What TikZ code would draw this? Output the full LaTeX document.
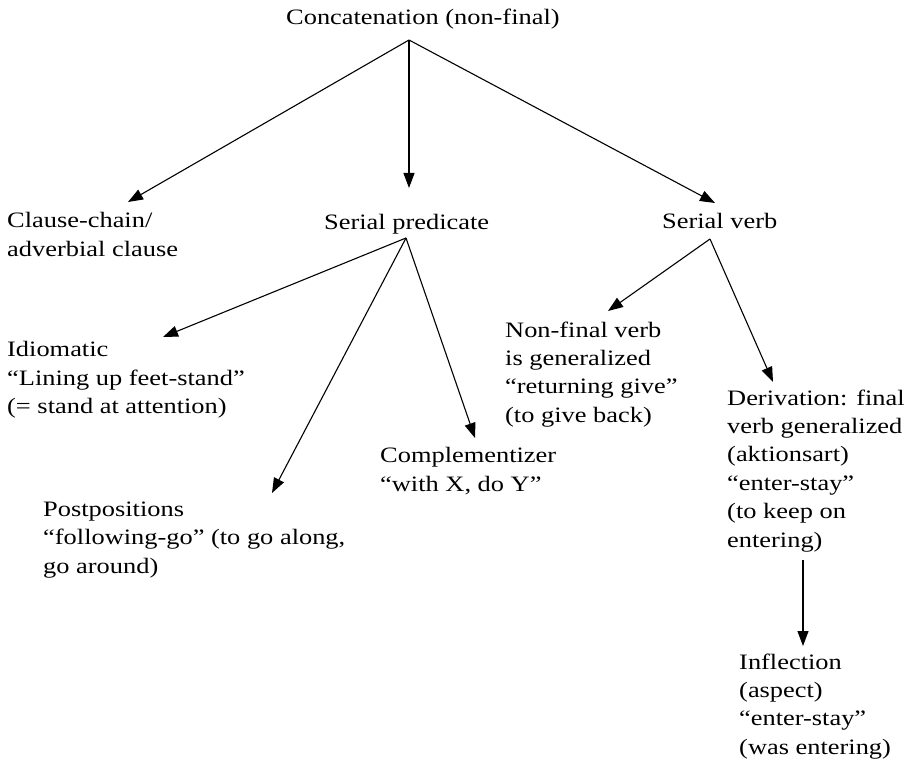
\documentclass[tikz,border=0pt]{standalone}
\usepackage{fontspec}
\setmainfont{Liberation Serif}[FakeStretch=1.2]
\usetikzlibrary{arrows.meta}

\begin{document}
\begin{tikzpicture}[x=1pt,y=-1pt,
  label/.style={anchor=north west, inner sep=0pt, align=left,
    font=\fontsize{22pt}{28.4pt}\selectfont,
    execute at begin node={\rule{0pt}{15.5pt}}},
  arr/.style={line width=1.1pt, -{Triangle[length=15pt,width=11pt]}}]
\useasboundingbox (0,0) rectangle (913,762);

% category labels (north west corner = first baseline - 15.5)
\node[label] (root)   at (286,8.5)   {Concatenation (non-final)};
\node[label] (clause) at (7,212.5)   {Clause-chain/\\adverbial clause};
\node[label] (sp)     at (324,213.5) {Serial predicate};
\node[label] (sv)     at (662,212.5) {Serial verb};
\node[label] (idiom)  at (7,341.5)   {Idiomatic\\``Lining up feet-stand''\\(= stand at attention)};
\node[label] (postp)  at (43,501.5)  {Postpositions\\``following-go'' (to go along,\\go around)};
\node[label] (compl)  at (380,447.5) {Complementizer\\``with X, do Y''};
\node[label] (nonfin) at (505,321.5) {Non-final verb\\is generalized\\``returning give''\\(to give back)};
\node[label] (deriv)  at (727,389.5) {Derivation: final\\verb generalized\\(aktionsart)\\``enter-stay''\\(to keep on\\entering)};
\node[label] (infl)   at (739,653.5) {Inflection\\(aspect)\\``enter-stay''\\(was entering)};

% branching points below each parent
\coordinate (rootfoot)  at (409,40);
\coordinate (spfoot)    at (406,238);
\coordinate (svfoot)    at (710,239);
\coordinate (derivfoot) at (803,560);

% arrow tips above each child
\coordinate (clausetip) at (128,202);
\coordinate (sptip)     at (409,188);
\coordinate (svtip)     at (715,203);
\coordinate (idiomtip)  at (163,337);
\coordinate (postptip)  at (272,493);
\coordinate (compltip)  at (475,438);
\coordinate (nonfintip) at (608,311);
\coordinate (derivtip)  at (773,382);
\coordinate (infltip)   at (803,646);

\draw[arr] (rootfoot) -- (clausetip);
\draw[arr] (rootfoot) -- (sptip);
\draw[arr] (rootfoot) -- (svtip);
\draw[arr] (spfoot) -- (idiomtip);
\draw[arr] (spfoot) -- (postptip);
\draw[arr] (spfoot) -- (compltip);
\draw[arr] (svfoot) -- (nonfintip);
\draw[arr] (svfoot) -- (derivtip);
\draw[arr] (derivfoot) -- (infltip);
\end{tikzpicture}
\end{document}
